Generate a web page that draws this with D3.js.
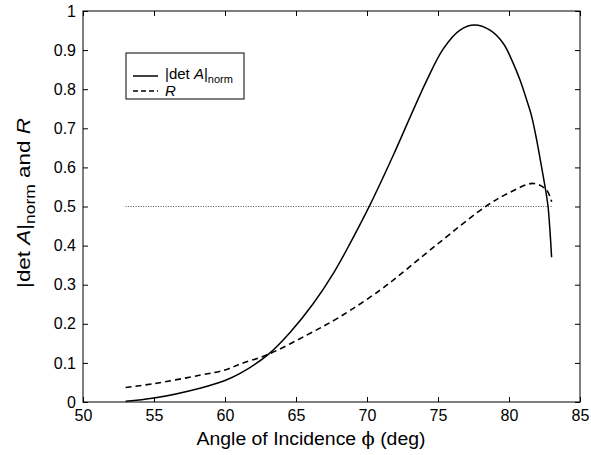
<!DOCTYPE html>
<html><head><meta charset="utf-8">
<script src="https://cdn.jsdelivr.net/npm/d3@7"></script>
<style>
body{margin:0;background:#fff;}
text{font-family:"Liberation Sans",Arial,sans-serif;fill:#000;}
</style></head>
<body><svg id="c" width="591" height="455"></svg>
<script>
const xTicks = [50,55,60,65,70,75,80,85];
const yTicks = [0,0.1,0.2,0.3,0.4,0.5,0.6,0.7,0.8,0.9,1];
const yTickLabels = ["0","0.1","0.2","0.3","0.4","0.5","0.6","0.7","0.8","0.9","1"];

const detPhi = [53,55,58.3,60,61.06,63.05,64.58,66.22,67.63,68.8,70.21,71.85,73.03,74.2,75.37,76.55,77.56,78.66,79.6,80.3,80.77,81.25,81.6,81.95,82.3,82.58,82.75,82.9,83.0];
const detVal = [0.002,0.010,0.036,0.055,0.073,0.122,0.178,0.252,0.329,0.405,0.504,0.631,0.728,0.822,0.903,0.951,0.964,0.951,0.917,0.866,0.824,0.772,0.73,0.67,0.6,0.542,0.5,0.43,0.37];

const rPhi = [53,55,58.3,60,61.06,63.05,65.75,68.1,70.92,72.3,75,78.43,80,81.71,82.65,83.0];
const rVal = [0.037,0.047,0.069,0.082,0.097,0.122,0.171,0.218,0.286,0.325,0.405,0.502,0.535,0.559,0.542,0.512];

const refPhi = [53,83];
const refVal = [0.5,0.5];

const svg = d3.select("#c");
const L=83, R=580, T=11, B=402;
const x = d3.scaleLinear().domain([50,85]).range([L,R]);
const y = d3.scaleLinear().domain([0,1]).range([B,T]);

const line = d3.line().x(d=>x(d[0])).y(d=>y(d[1])).curve(d3.curveCatmullRom.alpha(0.5));
const straight = d3.line().x(d=>x(d[0])).y(d=>y(d[1]));

svg.append("path").attr("d", straight(d3.zip(refPhi, refVal)))
  .attr("fill","none").attr("stroke","#555").attr("stroke-width",1).attr("stroke-dasharray","1,1.5");

svg.append("path").attr("d", line(d3.zip(rPhi, rVal)))
  .attr("fill","none").attr("stroke","#000").attr("stroke-width",1.6).attr("stroke-dasharray","6,4");

svg.append("path").attr("d", line(d3.zip(detPhi, detVal)))
  .attr("fill","none").attr("stroke","#000").attr("stroke-width",1.5);

svg.append("rect").attr("x",L).attr("y",T).attr("width",R-L).attr("height",B-T)
  .attr("fill","none").attr("stroke","#000").attr("stroke-width",1);

const fs = "16px";
const xb = svg.append("g").attr("transform",`translate(0,${B})`)
  .call(d3.axisBottom(x).tickValues(xTicks).tickSize(-5).tickPadding(8).tickFormat(d3.format("d")));
const xt = svg.append("g").attr("transform",`translate(0,${T})`)
  .call(d3.axisTop(x).tickValues(xTicks).tickSize(-5).tickFormat(""));
const yl = svg.append("g").attr("transform",`translate(${L},0)`)
  .call(d3.axisLeft(y).tickValues(yTicks).tickSize(-5).tickPadding(7).tickFormat((d,i)=>yTickLabels[i]));
const yr = svg.append("g").attr("transform",`translate(${R},0)`)
  .call(d3.axisRight(y).tickValues(yTicks).tickSize(-5).tickFormat(""));
[xb,xt,yl,yr].forEach(g=>{
  g.select(".domain").remove();
  g.selectAll("line").attr("stroke","#000");
  g.selectAll("text").attr("font-size",fs).attr("font-family","Liberation Sans, Arial, sans-serif").attr("fill","#000");
});

// x label
const xlabG = svg.append("g").attr("transform","translate(311,445)");
const xlab = xlabG.append("text").attr("text-anchor","middle").attr("font-size","19px");
xlab.append("tspan").text("Angle of Incidence ");
xlab.append("tspan").attr("font-family","DejaVu Serif, serif").text("\u03D5");
xlab.append("tspan").text(" (deg)");
{
  const w = xlab.node().getBBox().width;
  xlab.attr("transform",`scale(${229/w},1)`);
}

// y label
const ylabG = svg.append("g").attr("transform","translate(30,203) rotate(-90)");
const ylab = ylabG.append("text").attr("text-anchor","middle").attr("font-size","18px");
ylab.append("tspan").text("|det ");
ylab.append("tspan").attr("font-style","italic").text("A");
ylab.append("tspan").text("|");
ylab.append("tspan").attr("font-size","14px").attr("dy",5).text("norm");
ylab.append("tspan").attr("dy",-5).text(" and ");
ylab.append("tspan").attr("font-style","italic").text("R");
{
  const w = ylab.node().getBBox().width;
  ylab.attr("transform",`scale(${170/w},1)`);
}

// legend
const lg = svg.append("g");
lg.append("rect").attr("x",126).attr("y",53).attr("width",118).attr("height",46)
  .attr("fill","#fff").attr("stroke","#000").attr("stroke-width",1);
lg.append("line").attr("x1",133).attr("x2",158).attr("y1",76).attr("y2",76).attr("stroke","#000").attr("stroke-width",1.5);
lg.append("line").attr("x1",133).attr("x2",158).attr("y1",91).attr("y2",91).attr("stroke","#000").attr("stroke-width",1.5).attr("stroke-dasharray","5,3");
const t1 = lg.append("text").attr("x",165).attr("y",79).attr("font-size","15px");
t1.append("tspan").text("|det ");
t1.append("tspan").attr("font-style","italic").text("A");
t1.append("tspan").text("|");
t1.append("tspan").attr("font-size","11px").attr("dy",4).text("norm");
lg.append("text").attr("x",165).attr("y",96).attr("font-size","15px").attr("font-style","italic").text("R");
</script></body></html>
